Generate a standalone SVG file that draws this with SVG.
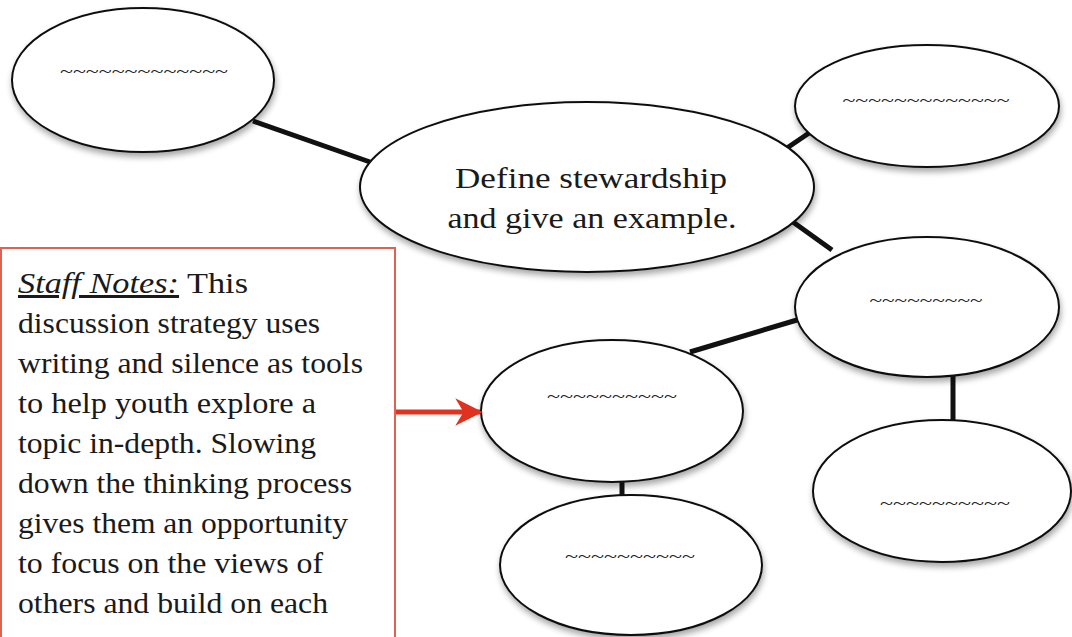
<svg xmlns="http://www.w3.org/2000/svg" width="1072" height="637" viewBox="0 0 1072 637">
<defs>
<filter id="sh" x="-10%" y="-10%" width="125%" height="130%">
<feGaussianBlur in="SourceAlpha" stdDeviation="3"/>
<feOffset dx="1" dy="4" result="b"/>
<feComponentTransfer><feFuncA type="linear" slope="0.35"/></feComponentTransfer>
<feMerge><feMergeNode/><feMergeNode in="SourceGraphic"/></feMerge>
</filter>
<marker id="ah" viewBox="0 0 10 10" refX="9" refY="5" markerWidth="5.5" markerHeight="5.5" orient="auto" markerUnits="strokeWidth">
<path d="M0,0 L10,5 L0,10 L3,5 Z" fill="#e0321e"/>
</marker>
</defs>
<style>
.node ellipse{fill:#fff;stroke:#111;stroke-width:2;filter:url(#sh)}
.conn line{stroke:#111;stroke-width:5}
.tl{font-family:"Liberation Serif",serif;font-size:16px;fill:#222;text-anchor:middle}
.main{font-family:"Liberation Serif",serif;font-size:29px;fill:#1a1a1a;text-anchor:middle}
.note{font-family:"Liberation Serif",serif;font-size:30px;fill:#1a1a1a}
</style>
<rect width="1072" height="637" fill="#fff"/>
<g id="connectors" class="conn">
<line x1="253" y1="121" x2="370" y2="162"/>
<line x1="812" y1="131" x2="787" y2="148"/>
<line x1="793" y1="222" x2="832" y2="250"/>
<line x1="797" y1="320" x2="690" y2="352"/>
<line x1="953" y1="376" x2="953" y2="421"/>
<line x1="622" y1="480" x2="622" y2="496"/>
</g>
<g id="n-topleft" class="node">
<ellipse cx="143" cy="80" rx="131" ry="72"/>
<text class="tl" x="144" y="77" textLength="168" lengthAdjust="spacingAndGlyphs">~~~~~~~~~~~~~</text>
</g>
<g id="n-center" class="node">
<ellipse cx="587" cy="187" rx="227" ry="85"/>
<text class="main" x="591" y="188" textLength="272" lengthAdjust="spacingAndGlyphs">Define stewardship</text>
<text class="main" x="592" y="228" textLength="289" lengthAdjust="spacingAndGlyphs">and give an example.</text>
</g>
<g id="n-topright" class="node">
<ellipse cx="927" cy="106" rx="132" ry="61"/>
<text class="tl" x="926" y="106" textLength="167" lengthAdjust="spacingAndGlyphs">~~~~~~~~~~~~~</text>
</g>
<g id="n-midright" class="node">
<ellipse cx="927" cy="307" rx="132" ry="70"/>
<text class="tl" x="926" y="306" textLength="113" lengthAdjust="spacingAndGlyphs">~~~~~~~~~</text>
</g>
<g id="n-botright" class="node">
<ellipse cx="942" cy="491" rx="129" ry="71"/>
<text class="tl" x="945" y="509" textLength="130" lengthAdjust="spacingAndGlyphs">~~~~~~~~~~</text>
</g>
<g id="n-midleft" class="node">
<ellipse cx="612" cy="411" rx="131" ry="71"/>
<text class="tl" x="612" y="402" textLength="130" lengthAdjust="spacingAndGlyphs">~~~~~~~~~~</text>
</g>
<g id="n-bottom" class="node">
<ellipse cx="631" cy="565" rx="131" ry="70"/>
<text class="tl" x="630" y="562" textLength="130" lengthAdjust="spacingAndGlyphs">~~~~~~~~~~</text>
</g>
<g id="staff-notes">
<rect x="1" y="248" width="394" height="400" fill="#fff" stroke="#e0614f" stroke-width="2"/>
<text class="note" x="18" y="293" textLength="230" lengthAdjust="spacingAndGlyphs"><tspan font-style="italic" text-decoration="underline">Staff Notes:</tspan> This</text>
<text class="note" x="18" y="333" textLength="302" lengthAdjust="spacingAndGlyphs">discussion strategy uses</text>
<text class="note" x="18" y="373" textLength="345" lengthAdjust="spacingAndGlyphs">writing and silence as tools</text>
<text class="note" x="18" y="413" textLength="298" lengthAdjust="spacingAndGlyphs">to help youth explore a</text>
<text class="note" x="18" y="453" textLength="298" lengthAdjust="spacingAndGlyphs">topic in-depth. Slowing</text>
<text class="note" x="18" y="493" textLength="334" lengthAdjust="spacingAndGlyphs">down the thinking process</text>
<text class="note" x="18" y="533" textLength="330" lengthAdjust="spacingAndGlyphs">gives them an opportunity</text>
<text class="note" x="18" y="573" textLength="305" lengthAdjust="spacingAndGlyphs">to focus on the views of</text>
<text class="note" x="18" y="613" textLength="310" lengthAdjust="spacingAndGlyphs">others and build on each</text>
</g>
<g id="arrow">
<line x1="396" y1="412" x2="480" y2="412" stroke="#e0321e" stroke-width="5" marker-end="url(#ah)"/>
</g>
</svg>
